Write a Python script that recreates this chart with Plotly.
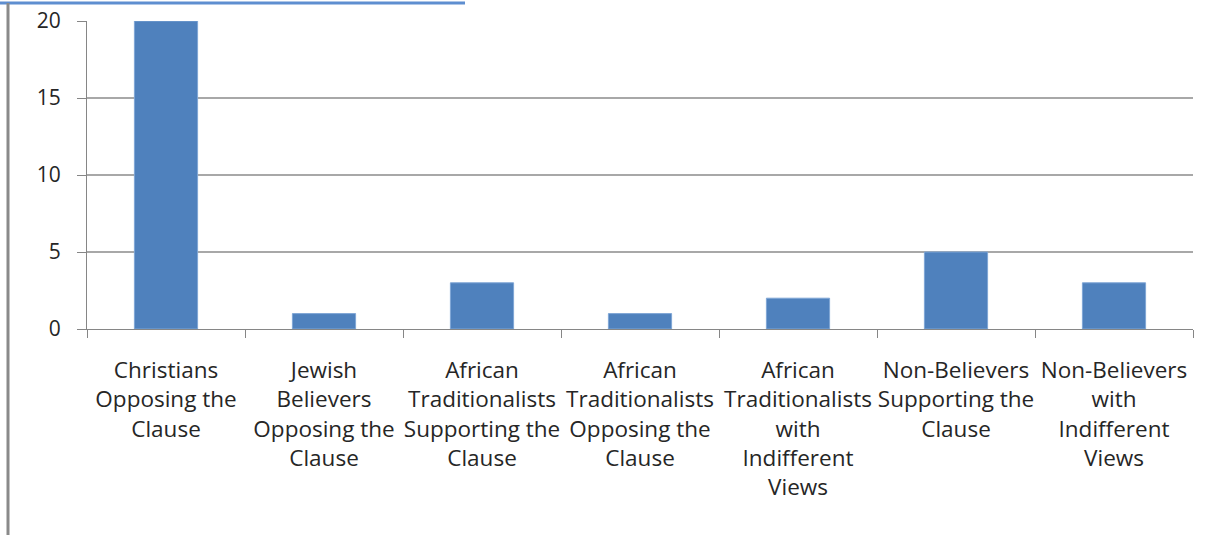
import plotly.graph_objects as go

# Survey groups and their counts
categories = [
    "Christians<br>Opposing the<br>Clause",
    "Jewish<br>Believers<br>Opposing the<br>Clause",
    "African<br>Traditionalists<br>Supporting the<br>Clause",
    "African<br>Traditionalists<br>Opposing the<br>Clause",
    "African<br>Traditionalists<br>with<br>Indifferent<br>Views",
    "Non-Believers<br>Supporting the<br>Clause",
    "Non-Believers<br>with<br>Indifferent<br>Views",
]
counts = [20, 1, 3, 1, 2, 5, 3]
y_ticks = [0, 5, 10, 15, 20]

FONT = "Open Sans"
TEXT = "#262626"
GRID = "#A8A8A8"

fig = go.Figure(
    go.Bar(
        x=categories,
        y=counts,
        width=0.4,
        marker=dict(color="#4F81BD", line=dict(color="#7FA6D6", width=1)),
    )
)

fig.update_layout(
    width=1217,
    height=535,
    margin=dict(l=87, r=24, t=21, b=206, autoexpand=False),
    paper_bgcolor="white",
    plot_bgcolor="white",
    showlegend=False,
    font=dict(family=FONT, size=22, color=TEXT),
    xaxis=dict(
        type="category",
        automargin=False,
        tickson="boundaries",
        ticks="outside",
        ticklen=8,
        tickcolor="#868686",
        showline=True,
        linecolor="#868686",
        showgrid=False,
        tickfont=dict(family=FONT, size=22.5, color=TEXT),
        tickangle=0,
        ticklabelstandoff=21,
    ),
    yaxis=dict(
        range=[0, 20],
        automargin=False,
        tickvals=y_ticks,
        ticks="outside",
        ticklen=9,
        tickcolor="#868686",
        showline=True,
        linecolor="#868686",
        showgrid=True,
        gridcolor=GRID,
        gridwidth=1.5,
        zeroline=False,
        tickfont=dict(family=FONT, size=21, color=TEXT),
        ticklabelstandoff=12,
    ),
    shapes=[
        # top accent rule
        dict(type="line", xref="paper", yref="paper",
             x0=-87 / 1106, x1=(465 - 87) / 1106, y0=1 + 18 / 308, y1=1 + 18 / 308,
             line=dict(color="#5E8ED0", width=3)),
        # left frame rule
        dict(type="line", xref="paper", yref="paper",
             x0=-79 / 1106, x1=-79 / 1106, y0=-206 / 308, y1=1 + 18 / 308,
             line=dict(color="#8A8A8A", width=3)),
    ],
)

fig.write_html("out.html")
